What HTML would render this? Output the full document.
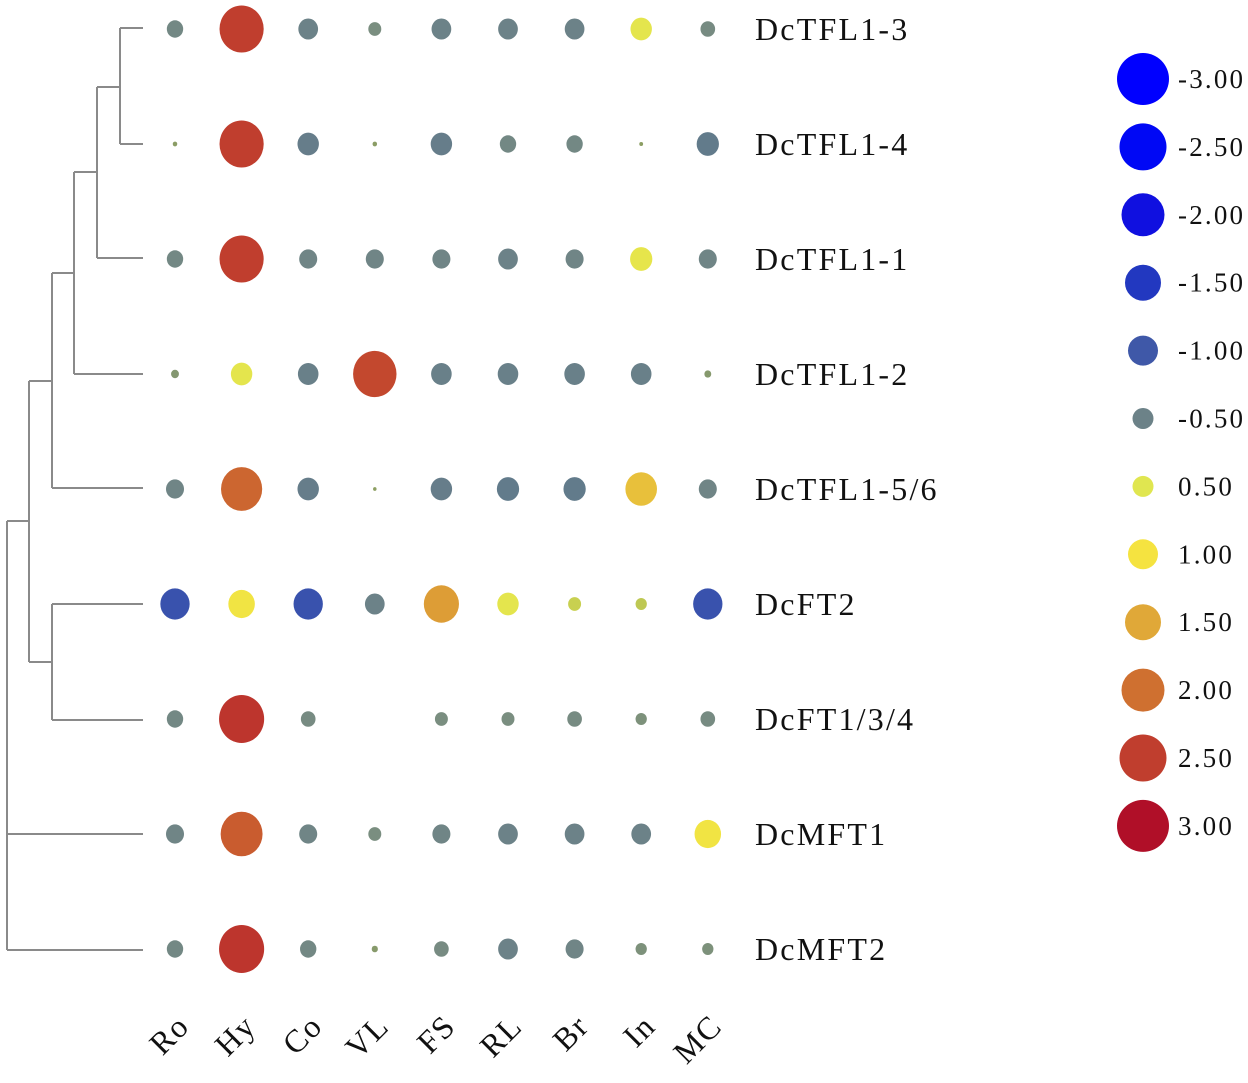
<!DOCTYPE html>
<html><head><meta charset="utf-8"><style>
html,body{margin:0;padding:0;background:#fff;}
svg{display:block;font-family:"Liberation Serif",serif;}
</style></head><body>
<svg id="chart" width="1248" height="1083" viewBox="0 0 1248 1083">
<g id="dendro" stroke="#8a8a8a" stroke-width="2" fill="none"></g>
<g id="dots"></g>
<g id="rowlabels"></g>
<g id="collabels"></g>
<g id="legend"></g>
</svg>
<script>
const genes = ["DcTFL1-3","DcTFL1-4","DcTFL1-1","DcTFL1-2","DcTFL1-5/6","DcFT2","DcFT1/3/4","DcMFT1","DcMFT2"];
const tissues = ["Ro","Hy","Co","VL","FS","RL","Br","In","MC"];
const rowTFL13 = [-0.4,2.5,-0.5,-0.3,-0.5,-0.5,-0.5,0.6,-0.35];
const rowTFL14 = [-0.05,2.5,-0.6,-0.05,-0.6,-0.4,-0.4,-0.03,-0.65];
const rowTFL11 = [-0.4,2.5,-0.45,-0.45,-0.45,-0.5,-0.45,0.65,-0.45];
const rowTFL12 = [-0.15,0.6,-0.55,2.4,-0.55,-0.55,-0.55,-0.55,-0.12];
const rowTFL156 = [-0.45,2.1,-0.6,-0.02,-0.6,-0.65,-0.65,1.3,-0.45];
const rowFT2 = [-1.1,0.9,-1.1,-0.5,1.6,0.6,0.3,0.25,-1.1];
const rowFT134 = [-0.4,2.6,-0.35,null,-0.3,-0.3,-0.35,-0.25,-0.35];
const rowMFT1 = [-0.45,2.2,-0.45,-0.3,-0.45,-0.5,-0.5,-0.5,0.9];
const rowMFT2 = [-0.4,2.6,-0.4,-0.1,-0.35,-0.5,-0.45,-0.25,-0.25];
const legendValues = [-3,-2.5,-2,-1.5,-1,-0.5,0.5,1,1.5,2,2.5,3];
const legendLabels = ["-3.00","-2.50","-2.00","-1.50","-1.00","-0.50","0.50","1.00","1.50","2.00","2.50","3.00"];

const rows=[rowTFL13,rowTFL14,rowTFL11,rowTFL12,rowTFL156,rowFT2,rowFT134,rowMFT1,rowMFT2];
const NS="http://www.w3.org/2000/svg";
function xPos(i){return 175+i*66.6;}
function yPos(j){return 29+j*115;}
const cStops=[[-3,[0,0,255]],[-2.5,[0,8,245]],[-2,[16,16,224]],[-1.5,[34,56,192]],[-1,[63,88,168]],[-0.7,[95,120,140]],[-0.5,[108,130,136]],[-0.3,[122,142,128]],[0,[142,160,96]],[0.3,[200,208,80]],[0.5,[224,230,80]],[1,[245,227,64]],[1.5,[224,168,56]],[2,[207,112,48]],[2.5,[192,62,46]],[3,[176,15,40]]];
function colorOf(v){
  if(v<=cStops[0][0])return "rgb("+cStops[0][1]+")";
  for(let k=1;k<cStops.length;k++){if(v<=cStops[k][0]){const a=cStops[k-1],b=cStops[k],t=(v-a[0])/(b[0]-a[0]);
    return "rgb("+a[1].map((c,i)=>Math.round(c+(b[1][i]-c)*t)).join(",")+")";}}
  return "rgb("+cStops[cStops.length-1][1]+")";
}
const rStops=[[0,1.5],[0.5,10.5],[1,15],[1.5,18],[2,21.5],[2.5,23.5],[3,26]];
function radiusOf(v){const a=Math.min(Math.abs(v),3);
  for(let k=1;k<rStops.length;k++){if(a<=rStops[k][0]){const p=rStops[k-1],q=rStops[k];return p[1]+(q[1]-p[1])*(a-p[0])/(q[0]-p[0]);}}
  return 26;}
function mk(tag,attrs,parent){const e=document.createElementNS(NS,tag);for(const k in attrs)e.setAttribute(k,attrs[k]);parent.appendChild(e);return e;}

const dots=document.getElementById('dots');
rows.forEach((row,j)=>{row.forEach((v,i)=>{if(v===null)return;const r=radiusOf(v);
  const e=mk('ellipse',{cx:xPos(i),cy:yPos(j),rx:r*0.94,ry:r,fill:colorOf(v)},dots);
  
  
});});

const rl=document.getElementById('rowlabels');
genes.forEach((g,j)=>{const t=mk('text',{x:755,y:yPos(j)+11,'font-size':32,'letter-spacing':2.2,fill:'#111'},rl);t.textContent=g;
  
  });

const cl=document.getElementById('collabels');
tissues.forEach((s,i)=>{const x=xPos(i)+16,y=1028;const t=mk('text',{x:x,y:y,'font-size':32,'letter-spacing':1.5,'text-anchor':'end',fill:'#111',transform:'rotate(-45 '+x+' '+y+')'},cl);t.textContent=s;
  
  });

const lg=document.getElementById('legend');
legendValues.forEach((v,k)=>{const y=79+k*67.9;const c=mk('circle',{cx:1143,cy:y,r:radiusOf(v),fill:colorOf(v)},lg);
  
  
  const t=mk('text',{x:1178,y:y+9,'font-size':27,'letter-spacing':2.2,fill:'#111'},lg);t.textContent=legendLabels[k];
  
  });

const dd=document.getElementById('dendro');
const segs=[[120,28,143,28],[120,144,143,144],[120,28,120,144],
[97,87,120,87],[97,258,143,258],[97,87,97,258],
[74,172,97,172],[74,374,143,374],[74,172,74,374],
[52,273,74,273],[52,488,143,488],[52,273,52,488],
[52,604,143,604],[52,720,143,720],[52,604,52,720],
[29,381,52,381],[29,662,52,662],[29,381,29,662],
[7,521,29,521],[7,834,143,834],[7,950,143,950],[7,521,7,950]];
segs.forEach(s=>{const l=mk('line',{x1:s[0],y1:s[1],x2:s[2],y2:s[3]},dd);
  
  });
</script>
</body></html>
